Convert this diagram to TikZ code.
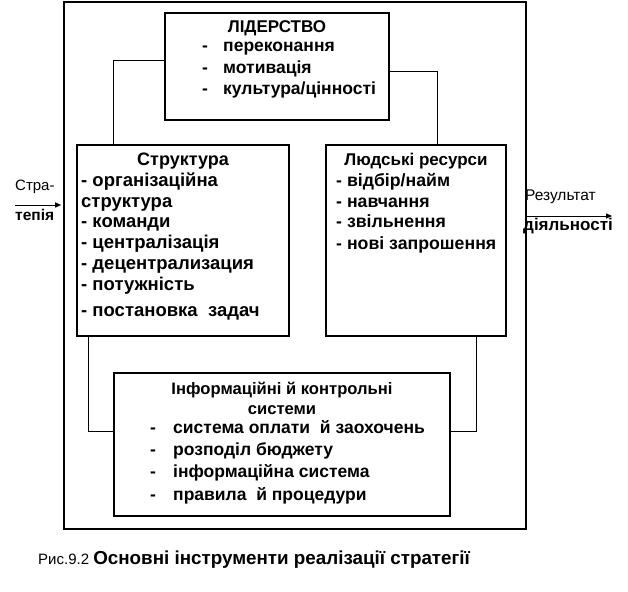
\documentclass[tikz,border=0pt]{standalone}
\usepackage{fontspec}
\setmainfont{Liberation Sans}
\usetikzlibrary{positioning,arrows.meta}

\tikzset{
  box/.style={draw, line width=1.3pt, inner sep=0pt},
  link/.style={draw, line width=1pt},
  arr/.style={line width=1pt, -{Triangle[length=6pt,width=5pt]}},
  ttl/.style={font=\fontsize{#1}{20}\selectfont\bfseries, inner sep=0pt, align=center},
  ttl/.default=16.5,
  itm/.style={font=\fontsize{#1}{20}\selectfont\bfseries, inner sep=0pt, anchor=west,
    text height=12pt, text depth=4pt},
  itm/.default=17.5,
  reg/.style={font=\fontsize{#1}{20}\selectfont, inner sep=0pt, anchor=west,
    text height=12pt, text depth=4pt},
  reg/.default=15
}

\begin{document}
\begin{tikzpicture}[x=1pt, y=-1pt]
\useasboundingbox (0,0) rectangle (628,591);

\node[box, line width=1.6pt, minimum width=462pt, minimum height=527pt] (frame) at (295,265.5) {};
\node[box, minimum width=224pt, minimum height=107pt] (lead) at (277,66.5) {};
\node[box, minimum width=212pt, minimum height=191pt] (struct) at (183,240.5) {};
\node[box, minimum width=180pt, minimum height=191pt] (hr) at (416,240.5) {};
\node[box, minimum width=336pt, minimum height=143pt] (info) at (282,444.5) {};

\draw[link] ([yshift=-48pt]lead.north west) -| ([xshift=37pt]struct.north west);
\draw[link] ([yshift=-59pt]lead.north east) -| ([xshift=-69pt]hr.north east);
\draw[link] ([xshift=12pt]struct.south west) |- ([yshift=-59pt]info.north west);
\draw[link] ([xshift=-30pt]hr.south east) |- ([yshift=-59pt]info.north east);

\node[ttl=17] (leadT) at (277,28) {ЛІДЕРСТВО};
\foreach \y/\t [count=\i] in {48/переконання, 70/мотивація, 91/{культура/цінності}}{
  \node[itm] (leadD\i) at (202,\y) {-};
  \node[itm] (lead\i) at (223,\y) {\t};
}

\node[ttl=18] (structT) at (183,161) {Структура};
\foreach \y/\t [count=\i] in {182/- організаційна, 203/структура, 223/- команди,
  244/- централізація, 265/- децентрализация, 286/- потужність, 312/- постановка~ задач}{
  \node[itm=18.5] (struct\i) at (81,\y) {\t};
}

\node[ttl=17] (hrT) at (416,161) {Людські ресурси};
\foreach \y/\t [count=\i] in {182/{- відбір/найм}, 203/- навчання, 223/- звільнення, 245/- нові запрошення}{
  \node[itm=17.7] (hr\i) at (336,\y) {\t};
}

\node[ttl=16.6] (infoT) at (282,398) {Інформаційні й контрольні\\системи};
\foreach \y/\t [count=\i] in {429/система оплати~ й заохочень, 451/розподіл бюджету,
  473/інформаційна система, 496/правила~ й процедури}{
  \node[itm] (infoD\i) at (150,\y) {-};
  \node[itm] (info\i) at (173,\y) {\t};
}

\coordinate (in) at (15,205);
\coordinate (out) at (612,216);
\draw[arr] (in) -- ([xshift=-2pt]frame.west |- in);
\draw[arr] (frame.east |- out) -- (out);
\node[reg] (inA) at (15,186) {Стра-};
\node[itm=15.5] (inB) at (15,216) {тепія};
\node[reg=15.5] (outA) at (525,196) {Результат};
\node[itm=17] (outB) at (523,226) {діяльності};

\node[reg=15] (cap) at (38,560) {Рис.9.2 \fontsize{18.8}{20}\selectfont\bfseries Основні інструменти реалізації стратегії};
\end{tikzpicture}
\end{document}
